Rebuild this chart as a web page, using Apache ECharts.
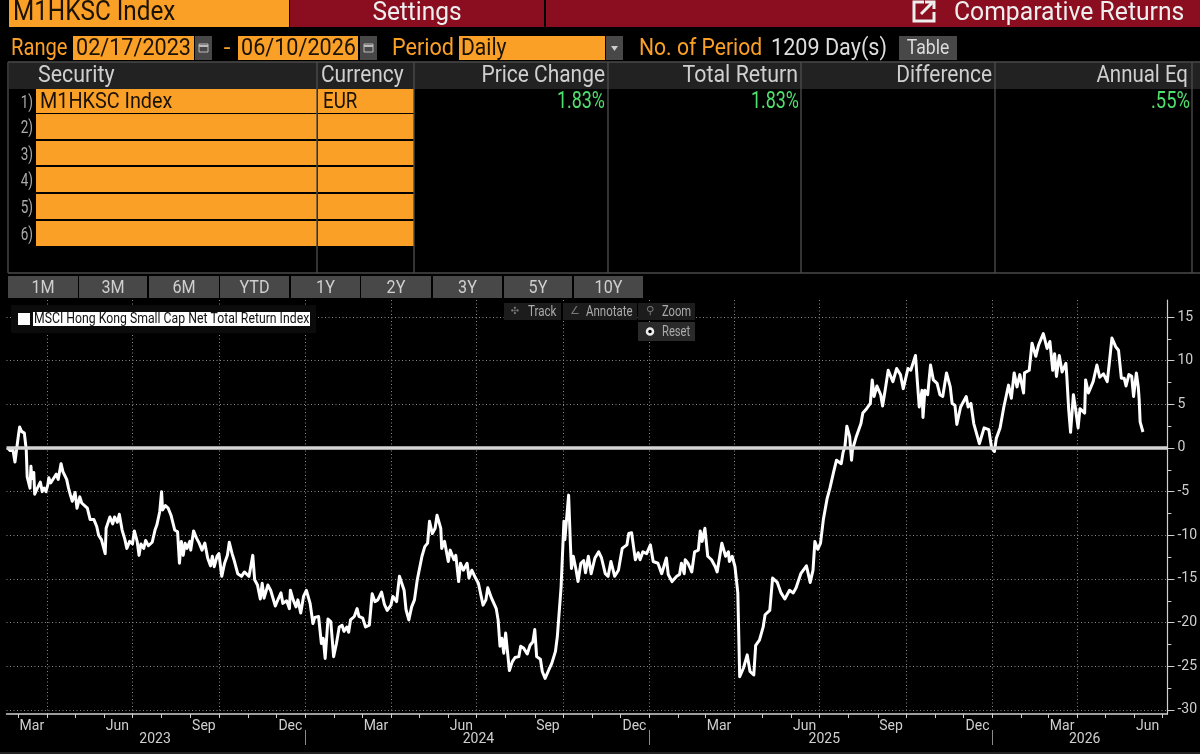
<!DOCTYPE html>
<html><head><meta charset="utf-8">
<style>html,body{margin:0;padding:0;background:#000}#c{width:1200px;height:754px}</style>
<script src="https://cdn.jsdelivr.net/npm/echarts@6/dist/echarts.min.js"></script></head>
<body><div id="c"></div>
<script>
const startDate = '2023-02-17';
const dayOffsets = [1,4,7,9,11,13,14,16,19,21,22,24,25,26,27,29,30,32,34,36,38,40,42,44,45,47,50,53,55,58,60,62,64,66,68,70,73,75,78,80,82,86,89,93,96,98,101,105,106,110,113,115,118,120,123,126,128,131,134,136,139,141,143,146,148,151,155,158,160,163,165,166,169,172,175,179,182,184,186,188,190,192,195,196,199,202,205,208,211,214,217,219,221,224,226,229,232,235,237,240,242,246,250,253,258,262,264,267,270,272,274,278,281,286,289,292,294,298,301,302,305,308,310,313,316,319,323,326,328,332,335,337,339,342,345,348,351,354,357,359,362,364,366,370,373,375,379,382,386,389,392,395,399,402,405,409,411,415,418,420,423,425,428,431,434,437,439,442,445,448,450,453,456,458,462,463,466,470,472,476,478,481,483,486,490,492,495,499,502,507,510,512,516,518,521,523,525,527,529,531,535,538,541,545,547,550,554,557,560,562,564,568,570,573,577,580,584,586,588,590,593,594,596,598,600,601,603,606,608,611,614,616,619,622,626,630,633,637,640,643,647,651,655,660,662,665,669,672,674,677,681,685,688,693,697,702,704,708,713,716,718,721,722,725,729,732,736,738,740,743,746,750,754,756,761,765,768,769,772,775,778,780,784,788,791,795,797,801,805,807,812,815,820,824,828,833,837,840,842,845,847,851,853,855,858,860,863,866,869,873,876,880,883,888,890,892,894,897,899,900,904,909,911,915,919,921,923,926,930,932,935,938,943,947,951,954,959,962,967,969,971,974,975,977,980,983,986,990,993,996,1000,1004,1006,1009,1011,1015,1021,1023,1026,1029,1031,1035,1037,1040,1045,1048,1051,1053,1057,1061,1066,1069,1072,1075,1078,1082,1083,1088,1091,1095,1098,1103,1107,1110,1113,1115,1117,1120,1123,1127,1128,1130,1132,1135,1137,1140,1142,1147,1148,1151,1153,1156,1160,1163,1167,1171,1173,1176,1180,1183,1186,1189,1191,1194,1197,1199,1202,1204,1205,1206,1208,1209];
const returnsPct = [0,-0.3,-0.3,-1.6,-1.6,1.7,2.4,1.9,1.7,-0.2,-3.3,-3.3,-4.6,-2.1,-3.5,-2.8,-5.3,-4.8,-4.6,-3.9,-5.0,-4.6,-5.0,-4.2,-3.4,-4.0,-3.5,-3.0,-3.6,-1.8,-2.7,-2.5,-3.6,-4.6,-5.4,-6.1,-5.1,-6.9,-5.6,-6.3,-6.5,-6.9,-8.2,-8.2,-9.0,-10.0,-10.5,-12.1,-9.2,-7.9,-8.7,-7.9,-8.5,-7.6,-9.4,-10.5,-11.5,-10.7,-11.0,-9.5,-10.7,-12.3,-11.0,-11.5,-10.6,-11.2,-10.8,-9.4,-8.8,-7.3,-5.0,-7.1,-6.6,-6.9,-7.7,-9.4,-9.6,-13.2,-10.7,-12.3,-10.9,-11.5,-10.7,-11.7,-9.5,-10.3,-10.9,-11.7,-10.9,-12.6,-13.5,-12.4,-13.6,-12.4,-12.1,-14.7,-13.2,-12.3,-10.8,-12.1,-12.8,-14.4,-14.7,-14.2,-14.7,-12.3,-15.1,-15.7,-17.3,-15.5,-17.2,-15.7,-16.3,-18.1,-17.3,-16.6,-17.8,-17.5,-18.4,-16.3,-17.4,-18.2,-17.4,-18.9,-17.0,-16.3,-17.8,-20.1,-19.4,-19.3,-22.4,-21.8,-24.1,-19.6,-19.9,-23.9,-22.4,-20.5,-20.3,-21.0,-20.5,-21.1,-19.7,-19.3,-18.4,-19.3,-19.5,-20.5,-20.3,-16.7,-17.6,-17.4,-16.5,-17.9,-18.6,-18.0,-17.0,-17.6,-14.7,-14.9,-16.3,-18.5,-19.7,-18.2,-17.4,-15.1,-14.9,-12.4,-11.3,-10.9,-8.4,-9.8,-9.2,-7.7,-9.2,-11.5,-10.7,-13.0,-11.7,-12.8,-12.3,-15.3,-13.2,-14.0,-13.2,-14.9,-14.0,-14.9,-15.5,-18.0,-17.4,-16.0,-17.2,-17.0,-18.4,-19.7,-22.7,-21.8,-23.5,-21.2,-25.5,-24.5,-24.0,-23.9,-22.7,-22.9,-23.6,-22.6,-22.2,-20.8,-23.9,-24.2,-25.6,-26.4,-25.4,-24.7,-23.3,-21.6,-21.4,-15.9,-8.4,-10.5,-10.5,-5.4,-11.3,-13.8,-12.4,-14.0,-15.3,-13.2,-12.9,-14.3,-12.4,-14.4,-12.6,-11.9,-12.6,-14.4,-14.7,-13.0,-14.7,-14.0,-11.5,-11.1,-9.8,-9.7,-12.8,-12.0,-12.8,-11.9,-12.1,-11.1,-13.0,-13.2,-14.4,-12.6,-14.5,-15.3,-14.7,-14.5,-13.2,-14.4,-12.8,-13.2,-14.2,-11.9,-11.7,-9.5,-10.7,-9.2,-12.4,-12.8,-13.6,-14.2,-10.9,-12.4,-11.9,-13.0,-12.4,-13.6,-16.6,-26.2,-25.2,-23.7,-25.6,-26.0,-22.6,-22.0,-20.5,-19.1,-18.6,-14.9,-15.4,-16.6,-17.3,-16.3,-16.6,-16.0,-16.1,-14.4,-14.2,-13.5,-13.6,-15.4,-14.0,-10.7,-11.6,-10.9,-8.2,-5.8,-4.6,-2.7,-1.4,-1.8,-0.5,0.2,2.5,1.3,-1.4,-0.2,1.3,2.8,4.0,4.5,5.1,7.8,5.9,7.1,6.1,4.8,6.8,8.9,7.6,9.1,8.4,6.8,9.1,8.9,10.6,7.6,4.7,6.6,3.5,6.6,6.1,9.5,7.8,7.4,6.1,5.9,8.6,7.0,5.1,4.9,2.7,4.7,5.9,4.7,5.1,2.8,2.6,0.5,0.5,2.3,2.1,0,-0.4,1.1,2.3,4.7,7.2,5.7,8.6,7.0,8.4,6.3,8.6,8.9,12.0,10.5,11.8,13.1,11.4,12.2,8.9,10.8,8.2,10.6,8.7,9.7,8.2,4.4,1.8,6.1,4.7,2.3,4.5,4.0,7.8,6.3,6.5,7.6,9.5,8.1,8.5,7.6,9.5,12.6,11.6,11.2,8.0,8.0,7.1,8.4,8.2,5.9,8.6,7.0,5.5,3.0,3.1,1.83];
const yTicks = [-30,-25,-20,-15,-10,-5,0,5,10,15];
const yMinorTicks = [-27.5,-22.5,-17.5,-12.5,-7.5,-2.5,2.5,7.5,12.5];
const monthTicks = ['2023-03-01','2023-04-01','2023-05-01','2023-06-01','2023-07-01','2023-08-01','2023-09-01','2023-10-01','2023-11-01','2023-12-01','2024-01-01','2024-02-01','2024-03-01','2024-04-01','2024-05-01','2024-06-01','2024-07-01','2024-08-01','2024-09-01','2024-10-01','2024-11-01','2024-12-01','2025-01-01','2025-02-01','2025-03-01','2025-04-01','2025-05-01','2025-06-01','2025-07-01','2025-08-01','2025-09-01','2025-10-01','2025-11-01','2025-12-01','2026-01-01','2026-02-01','2026-03-01','2026-04-01','2026-05-01','2026-06-01','2026-07-01'];
const quarterLines = ['2023-04-01','2023-07-01','2023-10-01','2024-01-01','2024-04-01','2024-07-01','2024-10-01','2025-01-01','2025-04-01','2025-07-01','2025-10-01','2026-01-01','2026-04-01'];
const monthLabelDates = ['2023-03-16','2023-06-15','2023-09-15','2023-12-16','2024-03-16','2024-06-15','2024-09-15','2024-12-16','2025-03-16','2025-06-15','2025-09-15','2025-12-16','2026-03-16','2026-06-15'];
const monthLabels = ['Mar','Jun','Sep','Dec','Mar','Jun','Sep','Dec','Mar','Jun','Sep','Dec','Mar','Jun'];
const yearLabelDates = ['2023-07-25','2024-07-03','2025-07-06','2026-04-09'];
const yearLabels = ['2023','2024','2025','2026'];
const yearSeparators = ['2024-01-01','2025-01-01','2026-01-01'];
const rangeButtons = ['1M','3M','6M','YTD','1Y','2Y','3Y','5Y','10Y'];
const legendName = 'MSCI Hong Kong Small Cap Net Total Return Index';

const DAY = 86400000, ts = s => Date.parse(s + 'T00:00:00Z'), t0 = ts(startDate);
const xMin = t0, xMax = t0 + 1235 * DAY, yMin = -30.47, yMax = 16.95;
const FONT = '"Roboto","DejaVu Sans",sans-serif';
const ORANGE = '#fba026', RED = '#8a0e1f', GREY = '#484848', TXT = '#cfcfcf', GREEN = '#4fe06e', INK = '#1a1206';
const g = [];
const R = (x,y,w,h,fill) => g.push({type:'rect',silent:true,shape:{x,y,width:w,height:h},style:{fill}});
const T = (x,y,text,size,fill,align,sx) => g.push({type:'text',silent:true,x,y,scaleX:sx||1,style:{text,fill,font:`${size}px ${FONT}`,align:align||'left',verticalAlign:'middle'}});
const L = (pts,stroke,w=1) => g.push({type:'polyline',silent:true,shape:{points:pts},style:{stroke,lineWidth:w,fill:null}});

// header
R(9,0,280,27,ORANGE); R(290,0,254,27,RED); R(546,0,654,27,RED);
T(13,13,'M1HKSC Index',27,INK,'left',.9); T(417,13,'Settings',26,'#eee','center',.94); T(954,13,'Comparative Returns',26,'#eee','left',.95);
L([[924,2],[914,2],[914,21],[934,21],[934,12]],'#eee',3); L([[921,14],[932,3]],'#eee',3); L([[925,2],[934,2],[934,9]],'#eee',3);
// range row
const cal = x => { R(x,36,17,24,GREY); g.push({type:'rect',silent:true,shape:{x:x+4,y:44,width:9,height:8},style:{fill:null,stroke:'#bbb',lineWidth:1}}); L([[x+4,46],[x+13,46]],'#bbb',2); };
T(11,49,'Range',24,ORANGE,'left',.84); R(73,36,121,24,ORANGE); T(76,49,'02/17/2023',24,INK,'left',.9); cal(195);
T(227,49,'-',24,ORANGE,'center'); R(238,36,120,24,ORANGE); T(241,49,'06/10/2026',24,INK,'left',.9); cal(360);
T(392,49,'Period',24,ORANGE,'left',.9); R(459,36,146,24,ORANGE); T(461,49,'Daily',24,INK,'left',.88);
R(606,36,17,24,GREY); g.push({type:'polygon',silent:true,shape:{points:[[611,46],[618,46],[614.5,51]]},style:{fill:'#ccc'}});
T(639,49,'No. of Period',24,ORANGE,'left',.88); T(771,49,'1209 Day(s)',24,'#ddd','left',.9); R(899,36,58,24,GREY); T(928,48.5,'Table',20,'#ddd','center',.88);
// table
R(9,62,1191,27,'#222');
const colLines = [8,317,414,608,801,995,1192];
T(38,76,'Security',23,TXT,'left',.93); T(321,76,'Currency',23,TXT,'left',.91);
T(605,76,'Price Change',23,TXT,'right',.91); T(798,76,'Total Return',23,TXT,'right',.93); T(992,76,'Difference',23,TXT,'right',.91); T(1188,76,'Annual Eq',23,TXT,'right',.89);
[[89,24],[114,25],[141,24],[167,25],[194,25],[221,25]].forEach(([y,h],i)=>{
  R(36,y,281,h,ORANGE); R(318,y,96,h,ORANGE); T(33,y+h/2+2,(i+1)+')',18,'#aaa','right',.75);
});
colLines.forEach(x => L([[x,62],[x,273]],'#4a4a4a',1.4)); L([[8,273],[1200,273]],'#4a4a4a',1.4); L([[8,62],[1200,62]],'#4a4a4a',1.4);
T(40,102,'M1HKSC Index',22,INK,'left',.9); T(323,102,'EUR',22,INK,'left',.85);
T(605,102,'1.83%',23,GREEN,'right',.78); T(799,102,'1.83%',23,GREEN,'right',.78); T(1190,102,'.55%',23,GREEN,'right',.8);
// range buttons
const bx = [[8,70],[79,68],[149,70],[220,69],[291,69],[361,70],[433,69],[504,68],[574,69]];
rangeButtons.forEach((b,i)=>{ R(bx[i][0],276,bx[i][1],22,GREY); T(bx[i][0]+bx[i][1]/2,288,b,19,TXT,'center',.85); });
R(0,752,1200,2,'#222');
// chart overlays
const over = [];
const oR = (x,y,w,h,fill) => over.push({type:'rect',silent:true,z:50,shape:{x,y,width:w,height:h},style:{fill}});
const oT = (x,y,text,size,fill,align,sx) => over.push({type:'text',silent:true,z:51,x,y,scaleX:sx||1,style:{text,fill,font:`${size}px ${FONT}`,align:align||'left',verticalAlign:'middle'}});
oR(11,305,305,28,'#0b0b0b'); oR(18,313,12,12,'#fff'); oR(33,312,277,14,'#fff'); oT(34,319.5,legendName,14.5,'#111','left',.845);
oR(504,303,57,17,'#1c1c1c'); oR(563,303,74,17,'#1c1c1c'); oR(638,303,57,17,'#1c1c1c'); oR(638,322,57,19,'#2a2a2a');
oT(528,312,'Track',14,'#aaa','left',.83); oT(586,312,'Annotate',14,'#aaa','left',.82); oT(662,312,'Zoom',14,'#aaa','left',.8); oT(662,332,'Reset',14,'#aaa','left',.8);
oT(515,311.5,'✣',10,'#777','center'); oT(575,311.5,'∠',11,'#777','center'); oT(650,311.5,'⚲',11,'#777','center');
over.push({type:'circle',silent:true,z:51,shape:{cx:650,cy:331.5,r:3},style:{fill:'#000',stroke:'#eee',lineWidth:2.5}});

const base = {type:'value',min:xMin,max:xMax,position:'bottom'};
const off = {axisLine:{show:false},axisTick:{show:false},axisLabel:{show:false},splitLine:{show:false}};
const monthMap = {}; monthLabelDates.forEach((d,i)=>monthMap[ts(d)]=monthLabels[i]);
const yearMap = {}; yearLabelDates.forEach((d,i)=>yearMap[ts(d)]=yearLabels[i]);
const DOT = {color:'#8a8a8a',type:[1,2.5],width:1};
const chart = echarts.init(document.getElementById('c'),null,{width:1200,height:754});
chart.setOption({
  animation:false, backgroundColor:'#000',
  grid:{left:6.5,right:30,top:300,bottom:40,containLabel:false},
  xAxis:[
    {...base,...off,axisLine:{show:true,onZero:false,lineStyle:{color:'#cfcfcf',width:1.5}},
      axisTick:{show:true,length:4,lineStyle:{color:'#cfcfcf'},customValues:monthTicks.map(ts)},
      axisLabel:{show:true,color:TXT,fontFamily:FONT,fontSize:14,margin:5,hideOverlap:false,
        customValues:monthLabelDates.map(ts),formatter:v=>monthMap[v]||''}},
    {...base,...off,axisLine:{show:false,onZero:false},axisTick:{show:false,customValues:quarterLines.map(ts)},
      splitLine:{show:true,lineStyle:DOT}},
    {...base,...off,offset:16,axisLine:{show:false,onZero:false},
      axisTick:{show:true,length:15,lineStyle:{color:'#8a8a8a'},customValues:yearSeparators.map(ts)},
      axisLabel:{show:true,color:TXT,fontFamily:FONT,fontSize:14,margin:2,customValues:yearLabelDates.map(ts),formatter:v=>yearMap[v]||''}}
  ],
  yAxis:[
    {type:'value',position:'right',min:yMin,max:yMax,axisLine:{show:true,onZero:false,lineStyle:{color:'#cfcfcf',width:1.2}},
      axisTick:{show:true,length:7,lineStyle:{color:'#cfcfcf'},customValues:yTicks},
      axisLabel:{show:true,color:TXT,fontFamily:FONT,fontSize:14,margin:10,align:'left',customValues:yTicks},
      splitLine:{show:true,lineStyle:DOT}},
    {type:'value',position:'right',min:yMin,max:yMax,...off,axisTick:{show:true,length:4,lineStyle:{color:'#cfcfcf'},customValues:yMinorTicks}}
  ],
  series:[{name:legendName,type:'line',xAxisIndex:0,yAxisIndex:0,showSymbol:false,symbol:'none',clip:false,
    lineStyle:{color:'#fff',width:3,join:'round'},
    data:dayOffsets.map((d,i)=>[t0+d*DAY,returnsPct[i]]),
    markLine:{silent:true,symbol:'none',label:{show:false},lineStyle:{color:'#d4d4d4',width:3.6,type:'solid'},data:[{yAxis:0}]}
  }],
  graphic:{elements:g.concat(over)}
});
</script></body></html>
